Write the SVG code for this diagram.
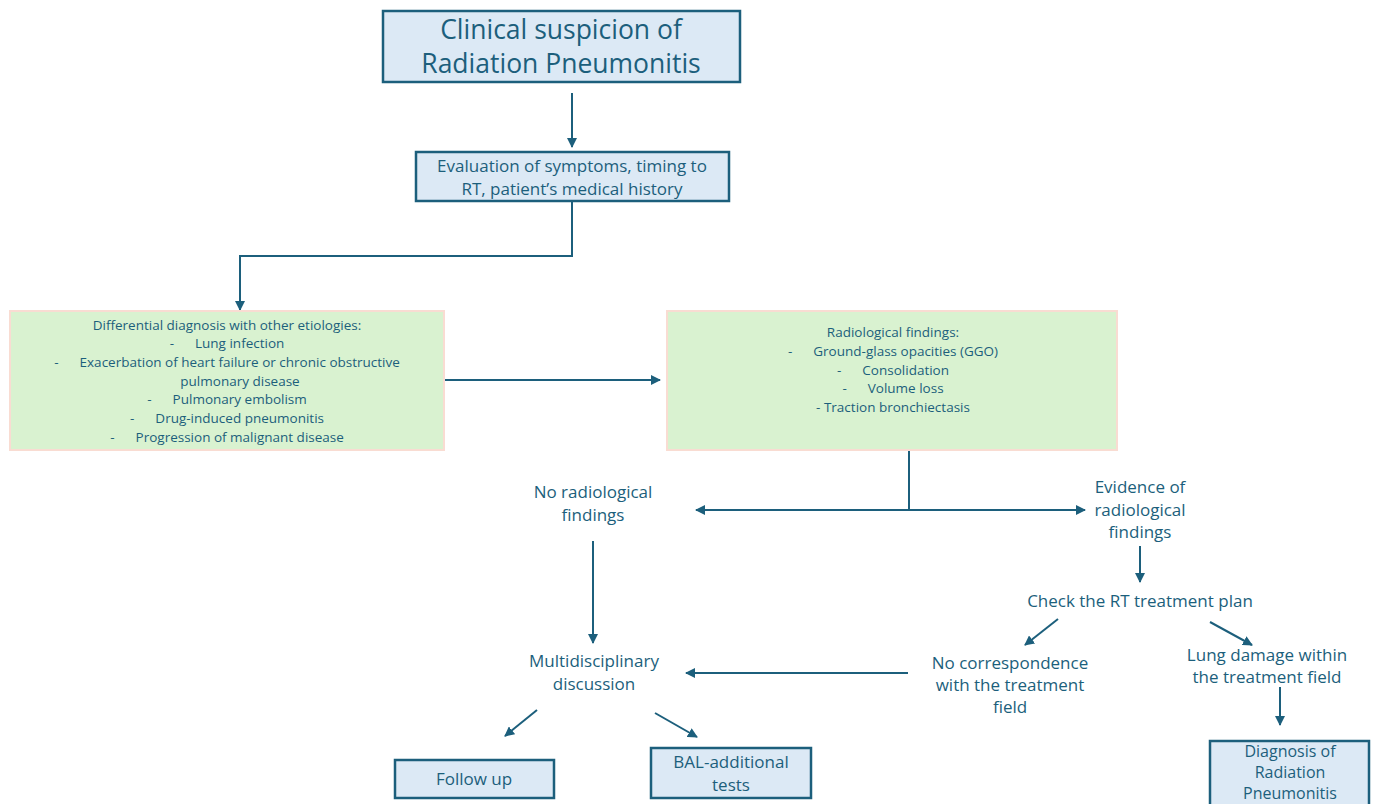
<svg xmlns="http://www.w3.org/2000/svg" width="1373" height="804" viewBox="0 0 1373 804">
<style>
.t{font-family:"Open Sans","Liberation Sans",sans-serif;fill:#1c5f7c;text-anchor:middle;white-space:pre}
.bb{fill:#dce9f5;stroke:#1c5f7c;stroke-width:2.5}
.gb{fill:#d9f2d0;stroke:#f9dcd2;stroke-width:2}
.c{stroke:#1c5f7c;stroke-width:2;fill:none}
</style>
<defs>
<marker id="ah" viewBox="0 0 10 10" refX="9" refY="5" markerWidth="5" markerHeight="5" orient="auto-start-reverse">
<path d="M0,0 L10,5 L0,10 z" fill="#1c5f7c"/>
</marker>
</defs>
<rect width="1373" height="804" fill="#fff"/>
<g id="connectors">
<line class="c" x1="572" y1="93" x2="572" y2="147" marker-end="url(#ah)"/>
<polyline class="c" points="572,201 572,256 240,256 240,310" marker-end="url(#ah)"/>
<line class="c" x1="444" y1="380" x2="660" y2="380" marker-end="url(#ah)"/>
<line class="c" x1="909" y1="451" x2="909" y2="510"/>
<line class="c" x1="696" y1="510" x2="1085" y2="510" marker-start="url(#ah)" marker-end="url(#ah)"/>
<line class="c" x1="1140" y1="546" x2="1140" y2="582" marker-end="url(#ah)"/>
<line class="c" x1="1058" y1="619" x2="1025" y2="645" marker-end="url(#ah)"/>
<line class="c" x1="1210" y1="622" x2="1252" y2="645" marker-end="url(#ah)"/>
<line class="c" x1="1280" y1="687" x2="1280" y2="725" marker-end="url(#ah)"/>
<line class="c" x1="908" y1="673" x2="686" y2="673" marker-end="url(#ah)"/>
<line class="c" x1="593" y1="541" x2="593" y2="643" marker-end="url(#ah)"/>
<line class="c" x1="537" y1="710" x2="505" y2="736" marker-end="url(#ah)"/>
<line class="c" x1="655" y1="713" x2="697" y2="737" marker-end="url(#ah)"/>
</g>
<g id="n1">
<rect class="bb" x="383" y="11" width="357" height="71"/>
<text class="t" x="561" y="39" font-size="26.5">Clinical suspicion of</text>
<text class="t" x="561" y="73" font-size="26.5">Radiation Pneumonitis</text>
</g>
<g id="n2">
<rect class="bb" x="416" y="152" width="313" height="49"/>
<text class="t" x="572" y="172" font-size="17">Evaluation of symptoms, timing to</text>
<text class="t" x="572" y="195" font-size="17">RT, patient’s medical history</text>
</g>
<g id="n3">
<rect class="gb" x="10" y="311" width="434" height="139"/>
<g font-size="13.5">
<text class="t" x="227" y="330">Differential diagnosis with other etiologies:</text>
<text class="t" x="227" y="348">-      Lung infection</text>
<text class="t" x="227" y="367">-      Exacerbation of heart failure or chronic obstructive</text>
<text class="t" x="240" y="386">pulmonary disease</text>
<text class="t" x="227" y="404">-      Pulmonary embolism</text>
<text class="t" x="227" y="423">-      Drug-induced pneumonitis</text>
<text class="t" x="227" y="442">-      Progression of malignant disease</text>
</g>
</g>
<g id="n4">
<rect class="gb" x="667" y="311" width="450" height="139"/>
<g font-size="13.5">
<text class="t" x="893" y="337">Radiological findings:</text>
<text class="t" x="893" y="356">-      Ground-glass opacities (GGO)</text>
<text class="t" x="893" y="375">-      Consolidation</text>
<text class="t" x="893" y="393">-      Volume loss</text>
<text class="t" x="893" y="412">- Traction bronchiectasis</text>
</g>
</g>
<g id="n5">
<text class="t" x="593" y="498" font-size="17">No radiological</text>
<text class="t" x="593" y="521" font-size="17">findings</text>
</g>
<g id="n6">
<text class="t" x="1140" y="493" font-size="17">Evidence of</text>
<text class="t" x="1140" y="516" font-size="17">radiological</text>
<text class="t" x="1140" y="538" font-size="17">findings</text>
</g>
<g id="n7">
<text class="t" x="1140" y="607" font-size="17">Check the RT treatment plan</text>
</g>
<g id="n8">
<text class="t" x="1010" y="669" font-size="17">No correspondence</text>
<text class="t" x="1010" y="691" font-size="17">with the treatment</text>
<text class="t" x="1010" y="713" font-size="17">field</text>
</g>
<g id="n9">
<text class="t" x="1267" y="661" font-size="17">Lung damage within</text>
<text class="t" x="1267" y="683" font-size="17">the treatment field</text>
</g>
<g id="n10">
<text class="t" x="594" y="667" font-size="17">Multidisciplinary</text>
<text class="t" x="594" y="690" font-size="17">discussion</text>
</g>
<g id="n11">
<rect class="bb" x="395" y="760" width="159" height="38"/>
<text class="t" x="474" y="785" font-size="17">Follow up</text>
</g>
<g id="n12">
<rect class="bb" x="651" y="748" width="160" height="50"/>
<text class="t" x="731" y="768" font-size="17">BAL-additional</text>
<text class="t" x="731" y="791" font-size="17">tests</text>
</g>
<g id="n13">
<rect class="bb" x="1210" y="741" width="159" height="75"/>
<text class="t" x="1290" y="757" font-size="16">Diagnosis of</text>
<text class="t" x="1290" y="778" font-size="16">Radiation</text>
<text class="t" x="1290" y="799" font-size="16">Pneumonitis</text>
</g>
</svg>
